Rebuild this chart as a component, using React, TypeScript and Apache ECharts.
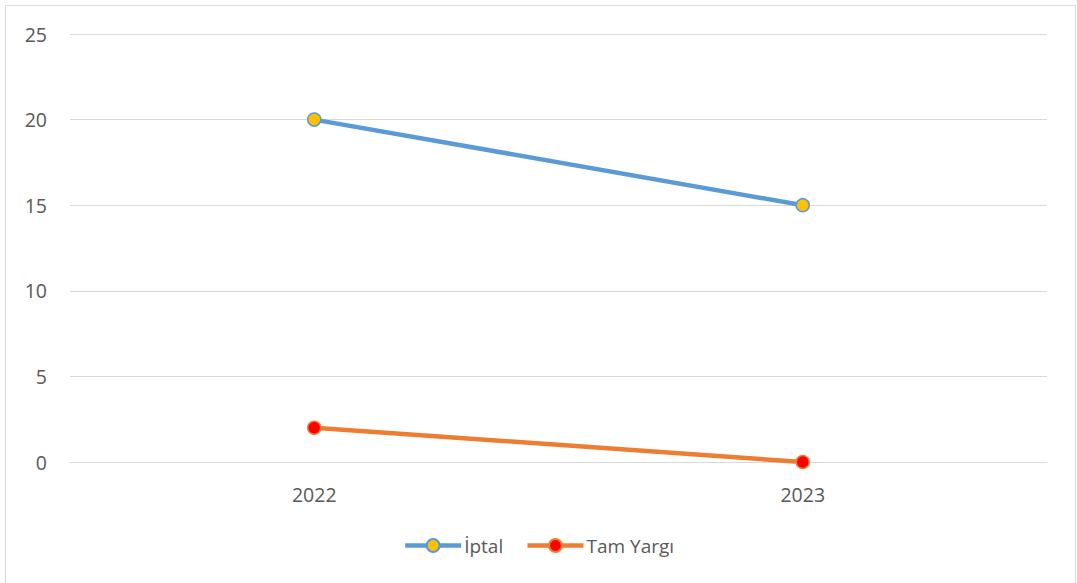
import React, { useEffect, useRef } from "react";
import * as echarts from "echarts";

const categories = ["2022", "2023"];
const iptalValues = [20, 15];
const tamYargiValues = [2, 0];
const seriesNames = ["İptal", "Tam Yargı"];

export default function App() {
  const ref = useRef<HTMLDivElement>(null);
  useEffect(() => {
    document.body.style.margin = "0";
    const chart = echarts.init(ref.current!, null, { renderer: "svg" });
    const font = "'Open Sans', 'Noto Sans', sans-serif";
    chart.setOption({
      animation: false,
      backgroundColor: "#ffffff",
      textStyle: { fontFamily: font },
      graphic: [
        {
          type: "rect",
          shape: { x: 5.5, y: 5.5, width: 1070, height: 600 },
          style: { fill: "none", stroke: "#d9d9d9", lineWidth: 1 },
          silent: true,
        },
      ],
      grid: { left: 70, right: 30, top: 34, bottom: 121 },
      legend: {
        bottom: 23,
        left: "center",
        itemWidth: 56,
        itemHeight: 16,
        itemGap: 22,
        itemStyle: {},
        textStyle: { color: "#595959", fontSize: 19, fontFamily: font, padding: [0, 0, 0, -2] },
        lineStyle: { width: 4.5 },
        data: seriesNames,
      },
      xAxis: {
        type: "category",
        data: categories,
        boundaryGap: true,
        axisLine: { show: true, lineStyle: { color: "#d9d9d9", width: 1 } },
        axisTick: { show: false },
        axisLabel: { color: "#595959", fontSize: 19.5, margin: 22, fontFamily: font },
      },
      yAxis: {
        type: "value",
        min: 0,
        max: 25,
        interval: 5,
        axisLine: { show: false },
        axisTick: { show: false },
        splitLine: { lineStyle: { color: "#d9d9d9", width: 1 } },
        axisLabel: { color: "#595959", fontSize: 19.5, margin: 23, fontFamily: font },
      },
      series: [
        {
          name: seriesNames[0],
          type: "line",
          data: iptalValues,
          symbol: "circle",
          symbolSize: 13,
          lineStyle: { color: "#5b9bd5", width: 4.5 },
          itemStyle: { color: "#ffc000", borderColor: "#5b9bd5", borderWidth: 1.5 },
        },
        {
          name: seriesNames[1],
          type: "line",
          data: tamYargiValues,
          symbol: "circle",
          symbolSize: 13,
          lineStyle: { color: "#ed7d31", width: 4.5 },
          itemStyle: { color: "#ff0000", borderColor: "#ed7d31", borderWidth: 1.5 },
        },
      ],
    });
    return () => chart.dispose();
  }, []);
  return <div ref={ref} style={{ width: 1077, height: 583 }} />;
}
